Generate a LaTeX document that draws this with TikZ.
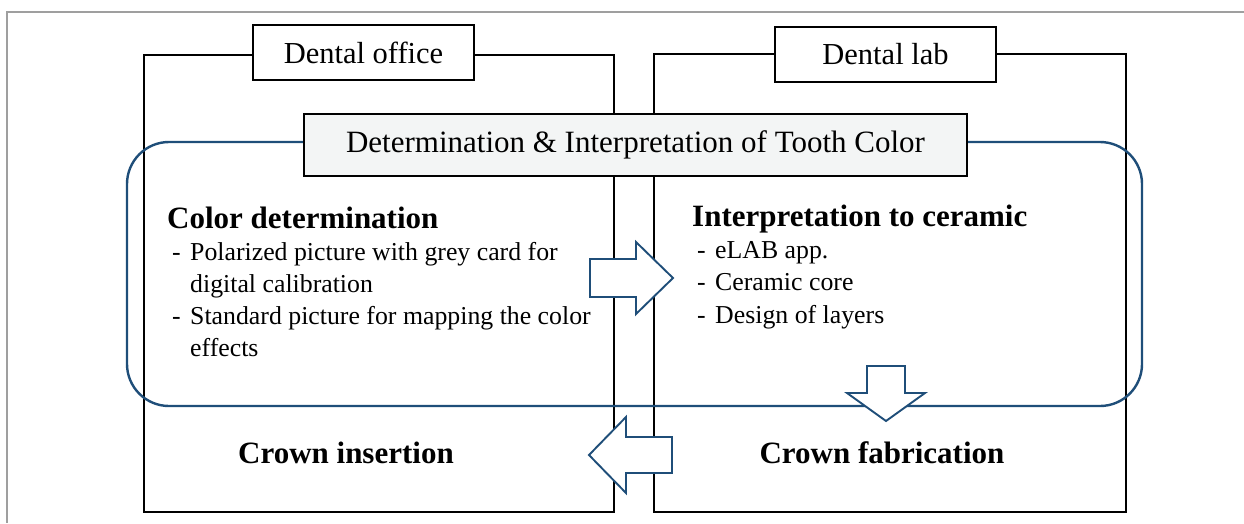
\documentclass[tikz,border=0pt]{standalone}
\usepackage{fontspec}
\setmainfont{Liberation Serif}
\definecolor{flowblue}{RGB}{31,78,121}
\definecolor{headfill}{RGB}{243,245,245}
\tikzset{
  frameline/.style={draw=gray!75, line width=1.1pt},
  sidebox/.style={draw=black, line width=1.9pt, rectangle, inner sep=0pt},
  labelbox/.style={draw=black, line width=1.9pt, fill=white, rectangle, inner sep=0pt,
    minimum width=221pt, minimum height=55pt, font=\fontsize{30.5}{36}\selectfont},
  headbox/.style={draw=black, line width=1.9pt, fill=headfill, rectangle, inner sep=0pt,
    minimum width=663pt, minimum height=62pt, font=\fontsize{31}{36}\selectfont},
  zone/.style={draw=flowblue, line width=2.4pt, rounded corners=42pt},
  blockarrow/.style={draw=flowblue, line width=1.9pt, fill=white, line join=miter},
  heading/.style={anchor=base west, inner sep=0pt, font=\bfseries\fontsize{31}{36}\selectfont},
  item/.style={anchor=base west, inner sep=0pt, font=\fontsize{25.8}{30}\selectfont},
  stage/.style={anchor=base, inner sep=0pt, font=\bfseries\fontsize{31}{36}\selectfont},
}
\begin{document}
\begin{tikzpicture}[x=1pt, y=-1pt]
  \useasboundingbox (0,0) rectangle (1244,523);

  % page frame
  \draw[frameline] (1244,12) -- (7,12) -- (7,523);

  % the two working places
  \node[sidebox, minimum width=470pt, minimum height=457pt] (office) at (379,283.5) {};
  \node[sidebox, minimum width=472pt, minimum height=458pt] (lab) at (890,283) {};
  \node[labelbox] (officelabel) at (363.5,52.5) {Dental office};
  \node[labelbox] (lablabel) at (885.5,54.5) {Dental lab};

  % shared colour stage
  \draw[zone] (127,142) rectangle (1142,406);
  \node[headbox] (head) at (635.5,145) {Determination \& Interpretation of Tooth Color};

  % office side
  \node[heading] (colhead) at (167,228) {Color determination};
  \node[item] (d1) at (172,260) {-};
  \node[item] (l1) at (190,260) {Polarized picture with grey card for};
  \node[item] (l1b) at (190,292) {digital calibration};
  \node[item] (d2) at (172,324) {-};
  \node[item] (l2) at (190,324) {Standard picture for mapping the color};
  \node[item] (l2b) at (190,356) {effects};

  % lab side
  \node[heading] (cerhead) at (692,226) {Interpretation to ceramic};
  \node[item] (d3) at (697,258) {-};
  \node[item] (r1) at (715,258) {eLAB app.};
  \node[item] (d4) at (697,290) {-};
  \node[item] (r2) at (715,290) {Ceramic core};
  \node[item] (d5) at (697,323) {-};
  \node[item] (r3) at (715,323) {Design of layers};

  % final stages
  \node[stage] (insert) at (346,463) {Crown insertion};
  \node[stage] (fab) at (882,463) {Crown fabrication};

  % block arrows
  \draw[blockarrow] (590,259) -- (636,259) -- (636,242) -- (673,278)
    -- (636,314) -- (636,297) -- (590,297) -- cycle;
  \draw[blockarrow] (867,366) -- (905,366) -- (905,393) -- (925,393)
    -- (886,421) -- (847,393) -- (867,393) -- cycle;
  \draw[blockarrow] (672,437) -- (626,437) -- (626,417) -- (589,455)
    -- (626,493) -- (626,473) -- (672,473) -- cycle;
\end{tikzpicture}
\end{document}
